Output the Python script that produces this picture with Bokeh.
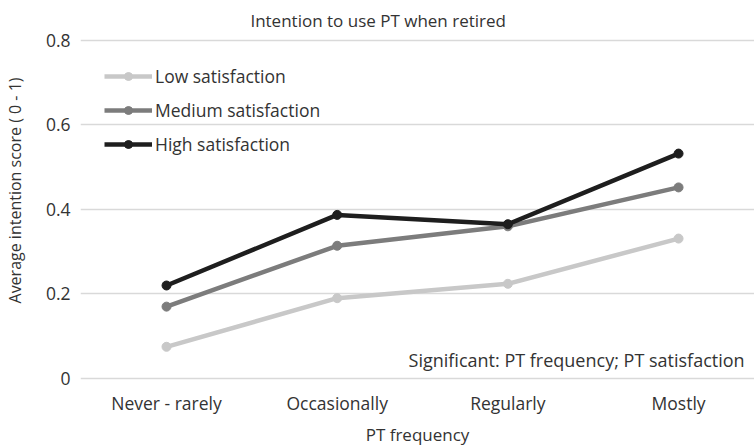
from bokeh.plotting import figure
from bokeh.models import FixedTicker, NumeralTickFormatter, Label, Legend, LegendItem, Range1d
from bokeh.embed import file_html
from bokeh.resources import INLINE

# ---- data ----
categories = ["Never - rarely", "Occasionally", "Regularly", "Mostly"]
low = [0.075, 0.190, 0.224, 0.331]
medium = [0.170, 0.314, 0.360, 0.452]
high = [0.220, 0.387, 0.365, 0.532]
series_names = ["Low satisfaction", "Medium satisfaction", "High satisfaction"]
y_ticks = [0, 0.2, 0.4, 0.6, 0.8]

FONT = "Open Sans"
TXT = "#333333"
colors = ["#c8c8c8", "#7c7c7c", "#1e1e1e"]

xs = list(range(len(categories)))

p = figure(width=754, height=448, output_backend="svg", toolbar_location=None,
           x_range=Range1d(-0.504, 3.445), y_range=Range1d(-0.0047, 0.8941),
           min_border_left=80, min_border_right=0, min_border_top=0, min_border_bottom=66)
p.outline_line_color = None
p.background_fill_color = "white"

# axes
p.xaxis.ticker = FixedTicker(ticks=xs)
p.xaxis.major_label_overrides = {i: c for i, c in enumerate(categories)}
p.yaxis.ticker = FixedTicker(ticks=y_ticks)
p.yaxis.formatter = NumeralTickFormatter(format="0.[0]")
for ax in (p.xaxis, p.yaxis):
    ax.axis_line_color = None
    ax.major_tick_line_color = None
    ax.minor_tick_line_color = None
    ax.major_tick_out = 0
    ax.major_tick_in = 0
    ax.minor_tick_out = 0
    ax.minor_tick_in = 0
    ax.major_label_text_font = FONT
    ax.major_label_text_font_size = "17.5px"
    ax.major_label_text_color = TXT
    ax.axis_label_text_font = FONT
    ax.axis_label_text_font_size = "17px"
    ax.axis_label_text_font_style = "normal"
    ax.axis_label_text_color = TXT
p.yaxis.axis_label_text_font_size = "16px"
p.xaxis.axis_label = "PT frequency"
p.yaxis.axis_label = "Average intention score ( 0 - 1)"
p.xaxis.major_label_standoff = 10
p.xaxis.axis_label_standoff = 5
p.yaxis.major_label_standoff = 10
p.yaxis.axis_label_standoff = 17

p.xgrid.grid_line_color = None
p.ygrid.ticker = FixedTicker(ticks=y_ticks)
p.ygrid.grid_line_color = "#d9d9d9"
p.ygrid.grid_line_width = 1.5

items = []
for name, vals, col in zip(series_names, [low, medium, high], colors):
    r1 = p.line(xs, vals, line_color=col, line_width=4.5)
    r2 = p.scatter(xs, vals, size=9, fill_color=col, line_color=col)
    items.append(LegendItem(label=name, renderers=[r1, r2]))

legend = Legend(items=items, location=(24, 224), border_line_color=None,
                background_fill_alpha=0, padding=0, margin=0, spacing=10,
                glyph_width=48, glyph_height=20, label_height=20, label_standoff=3,
                label_text_font=FONT, label_text_font_size="17.5px", label_text_color=TXT)
p.add_layout(legend, "center")

p.add_layout(Label(x=1.24, y=0.847, text="Intention to use PT when retired",
                   text_align="center", text_baseline="middle", text_font=FONT,
                   text_font_size="17px", text_color=TXT))
p.add_layout(Label(x=3.387, y=0.0447, text="Significant: PT frequency; PT satisfaction",
                   text_align="right", text_baseline="middle", text_font=FONT,
                   text_font_size="18px", text_color=TXT))

open("out.html", "w").write(file_html(p, INLINE))
